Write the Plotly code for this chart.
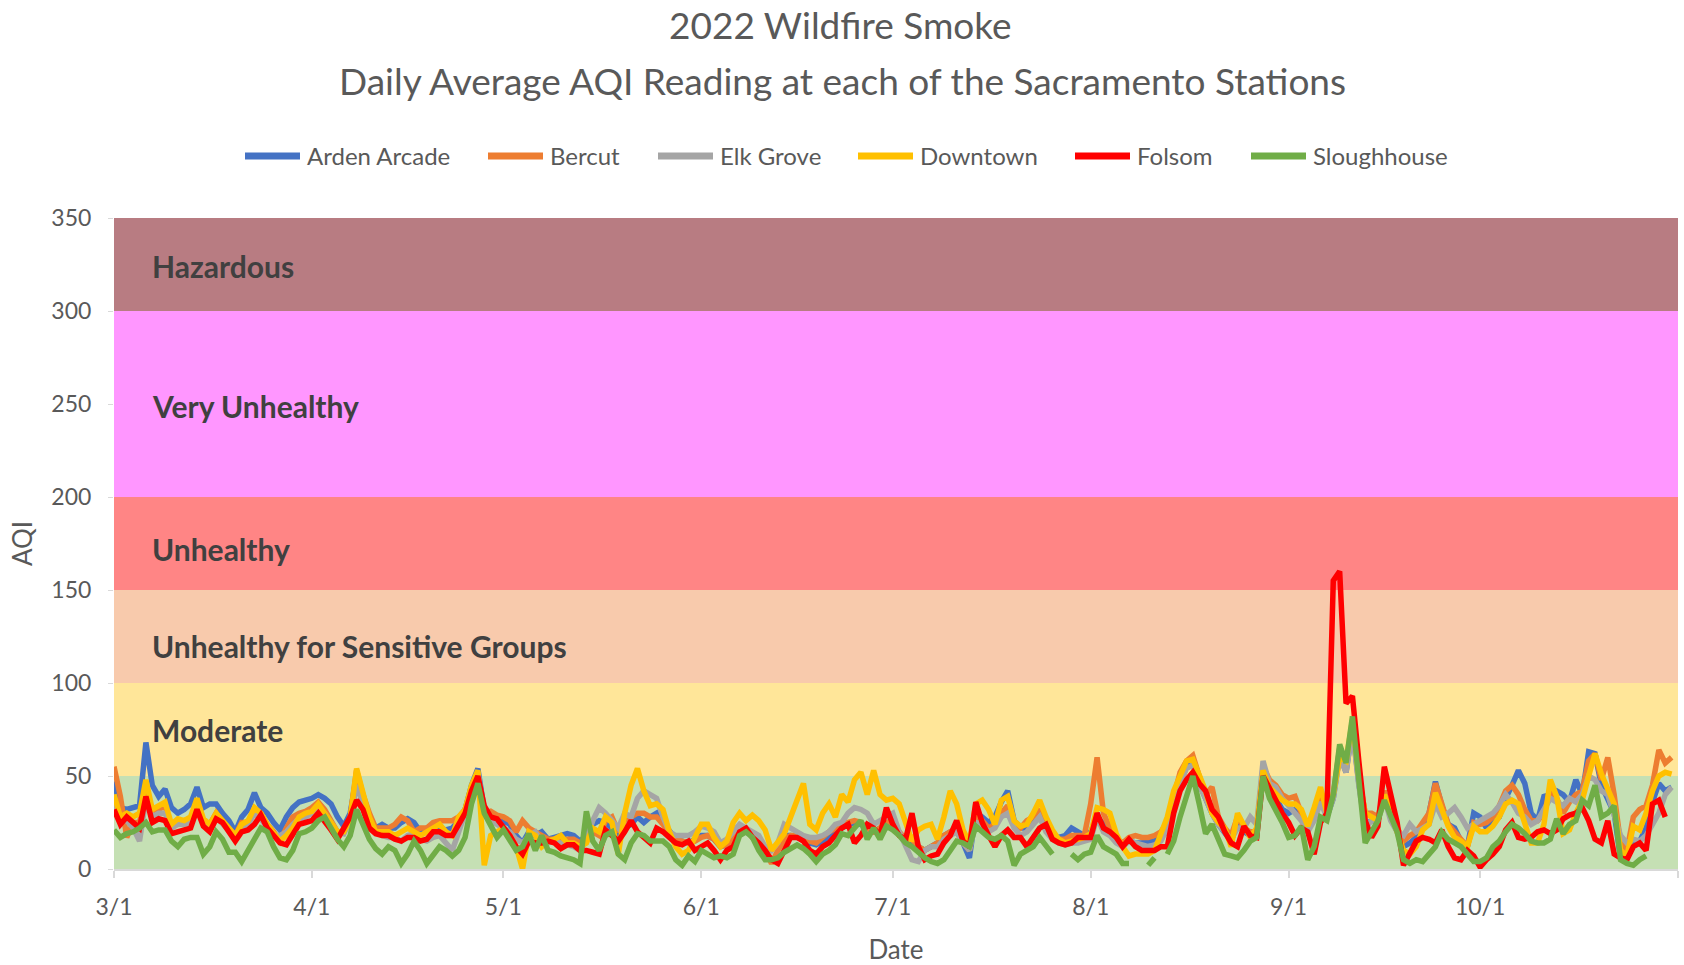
import pandas as pd
import plotly.graph_objects as go

# ---- data (daily average AQI, 2022-03-01 .. 2022-10-31) ----
dates = pd.date_range("2022-03-01", "2022-10-31", freq="D")

arden_arcade = [
    47,33,32,33,34,68,45,39,43,33, 30,32,35,44,33,35,35,30,26,20, 28,32,41,33,30,25,21,28,33,36,
    37,38,40,38,35,28,23,30,50,38, 26,22,
    24,22,22,25,27,25,20,22,24,22, 21,22,26,32,45,54,32,28,28,26, 24,18,14,20,18,20,16,17,18,19,
    18,15,18,24,26,25,22,18,22,24, 28,
    25,28,30,25,20,16,15,14,16,18, 18,16,12,13,16,20,20,18,15,10, 11,13,18,18,17,16,14,13,15,17,
    20,22,24,25,24,22,20,22,24,24, 20,15,
    15,12,10,12,14,18,20,22,14,6, 30,28,25,28,36,42,26,22,22,26, 30,22,18,17,18,22,20,18,20,28,
    24,22,16,14,15,14,14,15,15,18, 20,35,
    46,55,57,46,38,30,24,20,15,25, 20,18,18,52,42,38,32,30,32,30, 22,28,40,28,38,62,52,76,46,24,
    26,26,40,28,20,12,14,17,
    22,30,47,34,24,22,15,12,30,28, 22,26,28,38,45,53,46,30,26,39, 40,42,40,36,48,40,63,62,45,38,
    30,6,12,15,15,22,36,46,42,44,
]

bercut = [
    55,39,17,25,25,42,30,32,34,22, 25,25,27,35,26,24,30,25,22,18, 25,25,32,30,24,20,15,22,28,30,
    31,33,36,32,26,20,20,28,53,40, 30,22,
    22,22,24,28,26,20,22,22,25,26, 26,26,28,32,44,51,30,31,29,28, 26,20,26,22,20,18,16,16,15,16,
    16,14,16,20,18,26,28,20,26,28, 30,
    30,28,28,24,20,16,15,14,15,17, 18,16,12,13,16,20,21,18,15,10, 3,10,16,18,18,17,15,14,17,20,
    22,24,25,26,25,22,20,22,26,24, 20,16,
    16,12,10,12,14,18,20,20,14,10, 30,26,22,24,30,34,24,22,26,28, 32,22,17,16,16,18,18,18,35,60,
    30,22,16,14,17,18,17,17,18,20, 25,40,
    52,58,61,50,40,44,28,22,18,28, 22,20,20,55,48,45,40,38,39,30, 24,30,40,32,40,65,55,78,50,30,
    30,28,42,30,22,15,18,20,
    25,30,46,34,24,20,16,12,25,24, 25,28,34,42,45,40,32,26,26,30, 42,38,30,36,40,42,58,62,48,60,
    40,14,10,28,32,34,45,64,57,60,
]

elk_grove = [
    35,28,26,22,15,38,28,30,30,22, 24,24,25,32,25,23,28,24,20,17, 22,24,30,27,22,18,18,20,24,27,
    28,30,33,30,25,20,19,26,45,36, 26,20,
    18,17,17,15,18,19,16,15,17,18, 14,10,20,30,44,52,30,26,24,22, 20,16,14,18,20,15,14,15,14,13,
    12,10,16,26,33,30,26,22,30,28, 38,
    42,40,38,28,20,18,18,18,20,23, 22,20,14,16,20,24,22,20,18,12, 10,14,24,22,20,18,17,17,18,20,
    24,25,30,33,32,30,24,26,28,30, 20,12,
    5,4,10,12,12,16,18,20,14,10, 25,24,20,22,28,30,22,18,20,24, 28,20,16,14,13,14,14,15,16,28,
    20,18,14,12,15,14,13,12,13,15, 22,38,
    46,54,56,45,38,30,24,20,16,22, 22,28,24,58,46,44,38,34,30,26, 20,26,36,28,38,60,52,75,45,22,
    26,26,38,26,20,18,24,20,
    22,24,35,28,30,33,28,22,24,26, 28,30,34,40,36,30,28,24,26,32, 38,36,34,38,36,40,50,48,42,40,
    30,18,14,16,15,18,24,30,40,44,
]

downtown = [
    40,28,30,28,30,48,32,34,36,24, 27,26,28,38,27,24,30,26,22,18, 24,26,33,30,24,20,15,18,22,28,
    30,31,35,30,25,20,20,27,54,40, 28,20,
    20,20,18,20,22,20,18,20,22,24, 20,18,28,32,45,53,2,18,20,22, 18,12,0,20,18,12,15,16,18,14,
    14,12,14,22,20,28,25,8,30,45, 54,
    42,34,35,32,20,12,8,10,17,24, 24,17,12,15,25,30,26,29,26,21, 10,14,19,28,38,46,24,21,30,35,
    28,40,36,48,52,40,53,40,37,38, 35,26,
    15,21,23,24,16,28,42,35,21,14, 35,37,32,24,37,39,26,23,24,30, 37,28,21,16,14,15,16,17,19,33,
    32,30,19,12,7,8,8,8,10,19, 28,42,
    50,58,59,50,42,30,25,22,12,30, 24,17,22,53,44,40,37,35,35,32, 23,33,44,30,40,60,58,80,50,30,
    28,26,40,30,19,10,8,12,
    21,24,41,32,23,17,15,12,23,20, 20,23,28,35,37,35,24,14,14,24, 48,39,19,21,30,37,50,62,51,42,
    35,10,7,23,21,30,42,50,52,51,
]

folsom = [
    32,24,28,25,22,39,25,27,26,19, 20,21,22,32,23,20,27,25,20,15, 20,21,24,29,22,18,14,13,18,24,
    25,26,30,26,21,16,22,28,37,32, 22,19,
    18,18,16,15,17,17,15,16,20,20, 18,18,24,30,42,50,34,28,27,23, 18,12,8,15,14,14,15,14,11,13,
    13,10,10,9,8,21,18,15,20,26, 20,
    17,14,22,20,17,14,13,15,10,12, 14,10,5,10,12,20,22,17,14,10, 5,3,10,17,17,15,10,8,12,14,
    18,22,24,14,18,24,22,18,33,24, 18,16,
    30,12,5,7,8,14,18,26,15,12, 36,25,18,12,18,21,17,17,12,17, 22,24,16,14,13,14,17,17,17,30,
    22,20,17,12,16,12,10,10,10,12, 12,30,
    42,48,52,46,42,32,28,20,14,12, 23,18,17,50,44,37,30,25,18,22, 20,8,25,30,155,160,89,93,58,26,
    17,23,55,40,25,2,8,15,
    17,16,14,21,12,6,5,10,7,1, 5,8,12,21,25,17,16,17,20,21, 19,21,27,29,30,33,26,16,14,26,
    8,6,5,12,14,10,35,37,28,None,
]

sloughhouse = [
    21,17,19,20,22,25,20,21,21,15, 12,16,17,17,8,12,20,16,9,9, 4,10,16,22,20,12,6,5,10,19,
    20,22,26,28,22,16,12,18,32,24, 16,11,
    8,12,10,3,8,15,10,3,8,12, 10,7,10,17,35,46,30,23,17,21, 16,10,12,19,10,18,10,9,7,6,
    5,3,31,15,10,18,20,8,5,14, 19,
    18,15,15,15,12,5,2,7,4,10, 8,6,7,6,8,18,20,17,10,5, 5,6,9,11,13,11,8,4,8,10,
    13,19,18,22,26,16,22,16,23,21, 18,14,
    12,9,6,4,3,5,10,15,14,12, 23,20,17,16,18,15,2,8,10,12, 17,12,8,None,None,8,5,8,9,18,
    12,10,8,3,3,None,None,2,6,None, 8,15,
    28,40,50,35,19,24,15,8,7,6, 10,15,17,50,38,32,25,17,18,23, 5,12,28,26,40,67,57,82,48,14,
    20,26,37,28,20,5,3,5,
    4,8,12,20,16,14,12,8,4,4, 6,12,15,20,24,22,19,15,14,14, 16,27,19,24,26,37,34,45,28,30,
    34,5,3,2,5,7,None,None,None,None,
]

series_names = ["Arden Arcade", "Bercut", "Elk Grove", "Downtown", "Folsom", "Sloughhouse"]
series_values = [arden_arcade, bercut, elk_grove, downtown, folsom, sloughhouse]
series_colors = ["#4472C4", "#ED7D31", "#A5A5A5", "#FFC000", "#FF0000", "#70AD47"]

band_lows = [0, 50, 100, 150, 200, 300]
band_highs = [50, 100, 150, 200, 300, 350]
band_colors = ["#C5E0B4", "#FFE699", "#F8CAAC", "#FF8585", "#FF96FF", "#B87C82"]
band_labels = ["", "Moderate", "Unhealthy for Sensitive Groups", "Unhealthy", "Very Unhealthy", "Hazardous"]
band_label_y = [None, 75, 120, 172, 249, 324]

tick_dates = ["2022-03-01", "2022-04-01", "2022-05-01", "2022-06-01", "2022-07-01",
              "2022-08-01", "2022-09-01", "2022-10-01", "2022-11-01"]
tick_labels = ["3/1", "4/1", "5/1", "6/1", "7/1", "8/1", "9/1", "10/1", ""]

# ---- layout constants (pixels of the 1684x965 page) ----
W, H = 1684, 965
PL, PR, PT, PB = 114, 1678, 218, 869          # plot-area edges
legend_symbol_x = [242, 485, 655, 855, 1072, 1248]   # left end of each legend line
LEG_SYM_LEN = 61
LEG_Y = 156

def px_x(x):
    return (x - PL) / (PR - PL)

def px_y(y):
    return (PB - y) / (PB - PT)

FONT = "Lato, 'Open Sans', sans-serif"
TXT = "#595959"

fig = go.Figure()
for name, vals, col in zip(series_names, series_values, series_colors):
    fig.add_trace(go.Scatter(
        x=dates, y=vals, name=name, mode="lines",
        line=dict(color=col, width=5.5),
        connectgaps=False, showlegend=False,
    ))

for lo, hi, col in zip(band_lows, band_highs, band_colors):
    fig.add_shape(type="rect", xref="x domain", yref="y", x0=0, x1=1, y0=lo, y1=hi,
                  fillcolor=col, line=dict(width=0), layer="below")

for lab, yv in zip(band_labels, band_label_y):
    if lab:
        fig.add_annotation(text=lab, xref="x domain", yref="y", x=0.023, y=yv,
                           xanchor="left", yanchor="middle", showarrow=False,
                           font=dict(family=FONT, size=30, color="#404040", weight="bold"))

# legend (drawn as long line keys + labels, like the original)
for name, col, sx in zip(series_names, series_colors, legend_symbol_x):
    fig.add_shape(type="line", xref="paper", yref="paper",
                  x0=px_x(sx + 3), x1=px_x(sx + LEG_SYM_LEN - 3), y0=px_y(LEG_Y), y1=px_y(LEG_Y),
                  line=dict(color=col, width=7))
    fig.add_annotation(text=name, xref="paper", yref="paper", x=px_x(sx + LEG_SYM_LEN + 2),
                       y=px_y(LEG_Y), xanchor="left", yanchor="middle", showarrow=False,
                       font=dict(family=FONT, size=24, color=TXT))

fig.add_annotation(text="2022 Wildfire Smoke", xref="paper", yref="paper",
                   x=px_x(840), y=px_y(25), xanchor="center", yanchor="middle", showarrow=False,
                   font=dict(family=FONT, size=37, color=TXT))
fig.add_annotation(text="Daily Average AQI Reading at each of the Sacramento Stations",
                   xref="paper", yref="paper", x=px_x(842), y=px_y(80.5), xanchor="center",
                   yanchor="middle", showarrow=False,
                   font=dict(family=FONT, size=37, color=TXT))

fig.update_layout(
    width=W, height=H, autosize=False,
    margin=dict(l=PL, r=W - PR, t=PT, b=H - PB, pad=0, autoexpand=False),
    plot_bgcolor="white", paper_bgcolor="white",
    font=dict(family=FONT, size=24, color=TXT),
    showlegend=False,
    xaxis=dict(type="date", range=["2022-03-01", "2022-11-01"], automargin=False,
               tickmode="array", tickvals=tick_dates, ticktext=tick_labels,
               showgrid=False, zeroline=False, showline=True, linecolor="#D9D9D9", linewidth=1.5,
               ticks="outside", ticklen=7, tickcolor="#D9D9D9", tickwidth=1.5,
               tickfont=dict(family=FONT, size=23, color=TXT), ticklabelstandoff=10,
               title=dict(text="Date", font=dict(family=FONT, size=26, color=TXT), standoff=24)),
    yaxis=dict(range=[0, 350], tickmode="linear", tick0=0, dtick=50, automargin=False,
               showgrid=False, zeroline=False, showline=False,
               ticks="outside", ticklen=5, tickcolor="#D9D9D9",
               tickfont=dict(family=FONT, size=23, color=TXT), ticklabelstandoff=12,
               title=dict(text="AQI", font=dict(family=FONT, size=26, color=TXT), standoff=11)),
)

fig.write_html("out.html", config={"displayModeBar": False},
               post_script="document.body.style.margin='0px';")
